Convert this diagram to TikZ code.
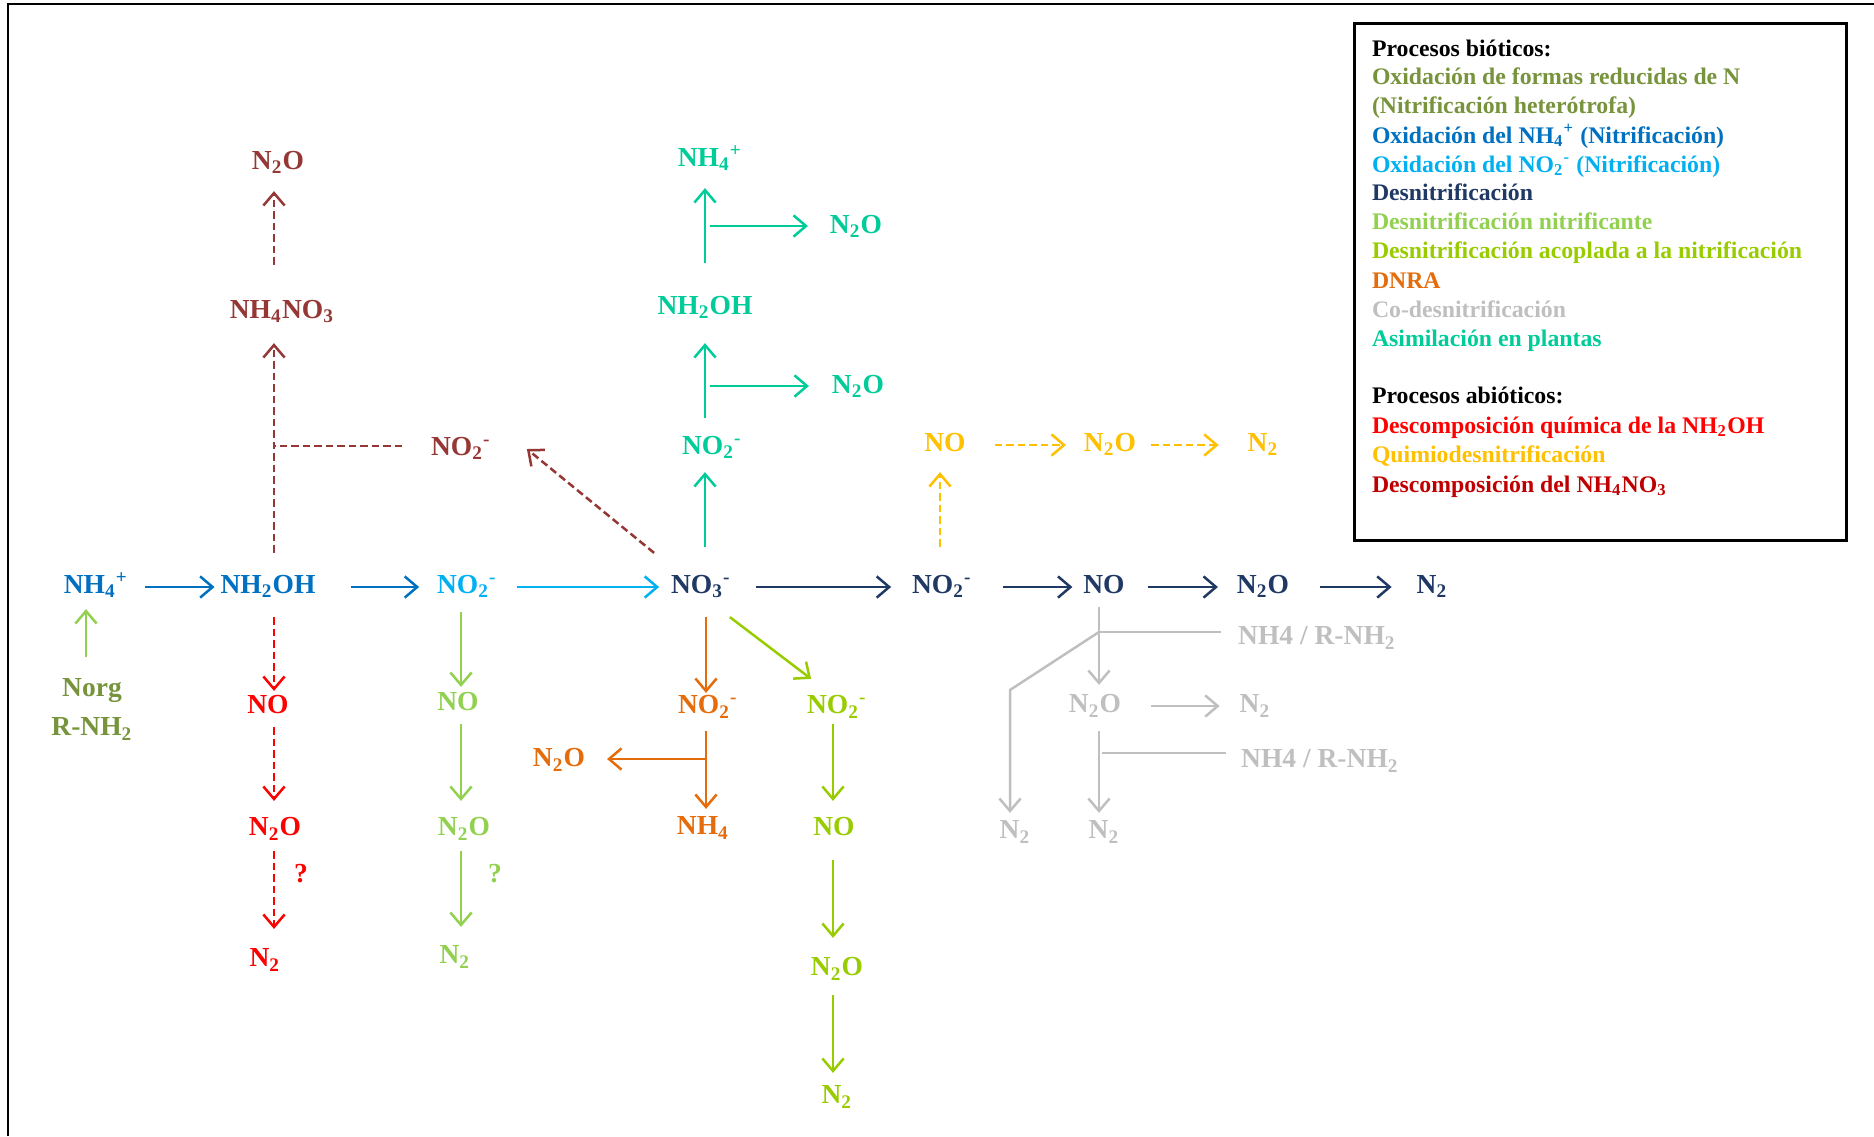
\documentclass[tikz,border=0pt]{standalone}
\usepackage{fontspec}
\setmainfont{Liberation Serif}
\usetikzlibrary{arrows.meta}
\definecolor{cBlue}{HTML}{0070C0}
\definecolor{cLBlue}{HTML}{00B0F0}
\definecolor{cNavy}{HTML}{1F3864}
\definecolor{cLGreen}{HTML}{92D050}
\definecolor{cLime}{HTML}{99CC00}
\definecolor{cOlive}{HTML}{77933C}
\definecolor{cOrange}{HTML}{E46C0A}
\definecolor{cGrey}{HTML}{BFBFBF}
\definecolor{cTeal}{HTML}{00CC99}
\definecolor{cRed}{HTML}{FF0000}
\definecolor{cYellow}{HTML}{FFC000}
\definecolor{cBrown}{HTML}{953735}
\definecolor{cDRed}{HTML}{C00000}
\newcommand\chsub[1]{\textsubscript{#1}}
\newcommand\chsup[1]{\textsuperscript{#1}}
\begin{document}
\begin{tikzpicture}[x=0.4pt,y=-0.4pt,
  lbl/.style={inner sep=0pt, outer sep=0pt, text height=8pt, text depth=2.5pt, font=\fontsize{11}{13}\selectfont\bfseries},
  leg/.style={anchor=west, inner sep=0pt, outer sep=0pt, text height=7pt, text depth=2pt, font=\fontsize{9.5}{11}\selectfont\bfseries},
  arr/.style={line width=1pt, -{Straight Barb[length=5pt,width=8.5pt,line width=1pt]}},
  ln/.style={line width=1pt},
  dsh/.style={dash pattern=on 3pt off 1.6pt},
  sh/.style 2 args={shorten <=#1, shorten >=#2}]
\useasboundingbox (0,0) rectangle (1874,1136);
\draw[line width=0.8pt] (8,1136) -- (8,4) -- (1874,4);

% legend
\draw[line width=1.2pt] (1354,23) rectangle (1846,540);
\node[leg,text=black]   (lg1)  at (1372,50)  {Procesos bióticos:};
\node[leg,text=cOlive]  (lg2)  at (1372,78)  {Oxidación de formas reducidas de N};
\node[leg,text=cOlive]  (lg3)  at (1372,107) {(Nitrificación heterótrofa)};
\node[leg,text=cBlue]   (lg4)  at (1372,137) {Oxidación del NH\chsub{4}\chsup{+} (Nitrificación)};
\node[leg,text=cLBlue]  (lg5)  at (1372,166) {Oxidación del NO\chsub{2}\chsup{-} (Nitrificación)};
\node[leg,text=cNavy]   (lg6)  at (1372,194) {Desnitrificación};
\node[leg,text=cLGreen] (lg7)  at (1372,223) {Desnitrificación nitrificante};
\node[leg,text=cLime]   (lg8)  at (1372,252) {Desnitrificación acoplada a la nitrificación};
\node[leg,text=cOrange] (lg9)  at (1372,282) {DNRA};
\node[leg,text=cGrey]   (lg10) at (1372,311) {Co-desnitrificación};
\node[leg,text=cTeal]   (lg11) at (1372,340) {Asimilación en plantas};
\node[leg,text=black]   (lg12) at (1372,397) {Procesos abióticos:};
\node[leg,text=cRed]    (lg13) at (1372,427) {Descomposición química de la NH\chsub{2}OH};
\node[leg,text=cYellow] (lg14) at (1372,456) {Quimiodesnitrificación};
\node[leg,text=cDRed]   (lg15) at (1372,486) {Descomposición del NH\chsub{4}NO\chsub{3}};

% column coordinates
\coordinate (xN) at (86,0);
\coordinate (xR) at (274,0);
\coordinate (xG) at (461,0);
\coordinate (xT) at (705,0);
\coordinate (xO) at (706,0);
\coordinate (xL) at (833,0);
\coordinate (xY) at (940,0);
\coordinate (xGy) at (1099,0);

% main row
\node[lbl,text=cBlue]  (mNH4)   at (96,587)   {NH\chsub{4}\chsup{+}};
\node[lbl,text=cBlue]  (mNH2OH) at (268,587)  {NH\chsub{2}OH};
\node[lbl,text=cLBlue] (mNO2lb) at (467,587)  {NO\chsub{2}\chsup{-}};
\node[lbl,text=cNavy]  (mNO3)   at (701,587)  {NO\chsub{3}\chsup{-}};
\node[lbl,text=cNavy]  (mNO2n)  at (942,587)  {NO\chsub{2}\chsup{-}};
\node[lbl,text=cNavy]  (mNO)    at (1104,587) {NO};
\node[lbl,text=cNavy]  (mN2O)   at (1263,587) {N\chsub{2}O};
\node[lbl,text=cNavy]  (mN2)    at (1432,587) {N\chsub{2}};
\draw[arr,cBlue,sh={6.8pt}{2.4pt}]   (mNH4) -- (mNH2OH);
\draw[arr,cBlue,sh={14.4pt}{7.2pt}]  (mNH2OH) -- (mNO2lb);
\draw[arr,cLBlue,sh={8pt}{4.8pt}]    (mNO2lb) -- (mNO3);
\draw[arr,cNavy,sh={10pt}{8.4pt}]    (mNO3) -- (mNO2n);
\draw[arr,cNavy,sh={12.4pt}{4.4pt}]  (mNO2n) -- (mNO);
\draw[arr,cNavy,sh={9.2pt}{7.6pt}]   (mNO) -- (mN2O);
\draw[arr,cNavy,sh={12.4pt}{10pt}]   (mN2O) -- (mN2);

% Norg
\node[lbl,text=cOlive] (norg) at (92,690) {Norg};
\node[lbl,text=cOlive] (rnh2) at (92,729) {R-NH\chsub{2}};
\draw[arr,cLGreen,sh={8pt}{3.6pt}] (norg.north -| xN) -- (mNH4.south -| xN);

% red column (NH2OH decomposition)
\node[lbl,text=cRed] (rNO)  at (268,707) {NO};
\node[lbl,text=cRed] (rN2O) at (275,829) {N\chsub{2}O};
\node[lbl,text=cRed] (rN2)  at (265,960) {N\chsub{2}};
\node[lbl,text=cRed] (q1)   at (301,876) {?};
\draw[arr,dsh,cRed,sh={6.8pt}{1.2pt}] (mNH2OH.south -| xR) -- (rNO.north -| xR);
\draw[arr,dsh,cRed,sh={2.8pt}{6pt}]   (rNO.south -| xR) -- (rN2O.north -| xR);
\draw[arr,dsh,cRed,sh={3.6pt}{7.2pt}] (rN2O.south -| xR) -- (rN2.north -| xR);

% light green column (nitrifier denitrification)
\node[lbl,text=cLGreen] (gNO)  at (458,704) {NO};
\node[lbl,text=cLGreen] (gN2O) at (464,829) {N\chsub{2}O};
\node[lbl,text=cLGreen] (gN2)  at (455,957) {N\chsub{2}};
\node[lbl,text=cLGreen] (q2)   at (495,876) {?};
\draw[arr,cLGreen,sh={4.8pt}{1.6pt}] (mNO2lb.south -| xG) -- (gNO.north -| xG);
\draw[arr,cLGreen,sh={2.8pt}{6pt}]   (gNO.south -| xG) -- (gN2O.north -| xG);
\draw[arr,cLGreen,sh={3.6pt}{6.8pt}] (gN2O.south -| xG) -- (gN2.north -| xG);

% brown (NH4NO3 decomposition)
\node[lbl,text=cBrown] (bNH4NO3) at (282,312) {NH\chsub{4}NO\chsub{3}};
\node[lbl,text=cBrown] (bN2O)    at (278,163) {N\chsub{2}O};
\node[lbl,text=cBrown] (bNO2)    at (461,449) {NO\chsub{2}\chsup{-}};
\coordinate (bJ) at (274,446);
\draw[arr,dsh,cBrown,sh={8.4pt}{7.2pt}]  (mNH2OH.north -| xR) -- (bNH4NO3.south -| xR);
\draw[arr,dsh,cBrown,sh={13.6pt}{6pt}]   (bNH4NO3.north -| xR) -- (bN2O.south -| xR);
\draw[ln,dsh,cBrown,sh={11.6pt}{0pt}]    (bNO2.west |- bJ) -- (bJ);
\draw[arr,dsh,cBrown] ([shift={(-17,-21)}]mNO3.north west) -- ([shift={(36,0)}]bNO2.east);

% teal (plant assimilation)
\node[lbl,text=cTeal] (tNO2)   at (712,448) {NO\chsub{2}\chsup{-}};
\node[lbl,text=cTeal] (tNH2OH) at (705,308) {NH\chsub{2}OH};
\node[lbl,text=cTeal] (tNH4)   at (710,160) {NH\chsub{4}\chsup{+}};
\node[lbl,text=cTeal] (tN2Ob)  at (858,387) {N\chsub{2}O};
\node[lbl,text=cTeal] (tN2Oa)  at (856,227) {N\chsub{2}O};
\coordinate (tJ1) at (710,386);
\coordinate (tJ2) at (710,226);
\draw[arr,cTeal,sh={10.8pt}{4.4pt}] (mNO3.north -| xT) -- (tNO2.south -| xT);
\draw[arr,cTeal,sh={6.8pt}{8.8pt}]  (tNO2.north -| xT) -- (tNH2OH.south -| xT);
\draw[arr,cTeal,sh={12.8pt}{6pt}]   (tNH2OH.north -| xT) -- (tNH4.south -| xT);
\draw[arr,cTeal,sh={0pt}{9.2pt}]    (tJ1) -- (tN2Ob.west |- tJ1);
\draw[arr,cTeal,sh={0pt}{8.8pt}]    (tJ2) -- (tN2Oa.west |- tJ2);

% orange (DNRA)
\node[lbl,text=cOrange] (oNO2) at (708,707) {NO\chsub{2}\chsup{-}};
\node[lbl,text=cOrange] (oNH4) at (703,828) {NH\chsub{4}};
\node[lbl,text=cOrange] (oN2O) at (559,760) {N\chsub{2}O};
\coordinate (oJ) at (706,759);
\draw[arr,cOrange,sh={6.8pt}{0.4pt}] (mNO3.south -| xO) -- (oNO2.north -| xO);
\draw[arr,cOrange,sh={4.4pt}{2.4pt}] (oNO2.south -| xO) -- (oNH4.north -| xO);
\draw[arr,cOrange,sh={0pt}{8.8pt}]   (oJ) -- (oN2O.east |- oJ);

% lime (coupled nitrification-denitrification)
\node[lbl,text=cLime] (lNO2) at (837,707)  {NO\chsub{2}\chsup{-}};
\node[lbl,text=cLime] (lNO)  at (834,829)  {NO};
\node[lbl,text=cLime] (lN2O) at (837,969)  {N\chsub{2}O};
\node[lbl,text=cLime] (lN2)  at (837,1097) {N\chsub{2}};
\draw[arr,cLime] ([shift={(-1,17)}]mNO3.south east) -- ([shift={(4,-15)}]lNO2.north west);
\draw[arr,cLime,sh={1.6pt}{6pt}]   (lNO2.south -| xL) -- (lNO.north -| xL);
\draw[arr,cLime,sh={7.2pt}{7.2pt}] (lNO.south -| xL) -- (lN2O.north -| xL);
\draw[arr,cLime,sh={5.2pt}{4.4pt}] (lN2O.south -| xL) -- (lN2.north -| xL);

% yellow (chemodenitrification)
\node[lbl,text=cYellow] (yNO)  at (945,445)  {NO};
\node[lbl,text=cYellow] (yN2O) at (1110,445) {N\chsub{2}O};
\node[lbl,text=cYellow] (yN2)  at (1263,445) {N\chsub{2}};
\draw[arr,dsh,cYellow,sh={10.8pt}{5.6pt}] (mNO2n.north -| xY) -- (yNO.south -| xY);
\draw[arr,dsh,cYellow,sh={11.6pt}{7.2pt}] (yNO) -- (yN2O);
\draw[arr,dsh,cYellow,sh={6pt}{11.6pt}]   (yN2O) -- (yN2);

% grey (co-denitrification)
\node[lbl,text=cGrey] (gyN2O)  at (1095,706) {N\chsub{2}O};
\node[lbl,text=cGrey] (gyN2b)  at (1255,706) {N\chsub{2}};
\node[lbl,text=cGrey] (gyN2a)  at (1015,832) {N\chsub{2}};
\node[lbl,text=cGrey] (gyN2c)  at (1104,832) {N\chsub{2}};
\node[lbl,text=cGrey] (gyNH4a) at (1317,638) {NH4 / R-NH\chsub{2}};
\node[lbl,text=cGrey] (gyNH4b) at (1320,761) {NH4 / R-NH\chsub{2}};
\coordinate (gyJ1) at (1099,632);
\coordinate (gyK)  at (1010,690);
\coordinate (gyJ2) at (1102,753);
\draw[arr,cGrey,sh={2.8pt}{3.2pt}] (mNO.south -| xGy) -- (gyN2O.north -| xGy);
\draw[ln,cGrey,sh={6.8pt}{0pt}]    (gyNH4a.west |- gyJ1) -- (gyJ1);
\draw[arr,cGrey,sh={0pt}{2.4pt}]   (gyJ1) -- (gyK) -- (gyK |- gyN2a.north);
\draw[arr,cGrey,sh={12pt}{8pt}]    (gyN2O) -- (gyN2b);
\draw[arr,cGrey,sh={4.8pt}{2.4pt}] (gyN2O.south -| xGy) -- (gyN2c.north -| xGy);
\draw[ln,cGrey,sh={6pt}{0pt}]      (gyNH4b.west |- gyJ2) -- (gyJ2);
\end{tikzpicture}
\end{document}
